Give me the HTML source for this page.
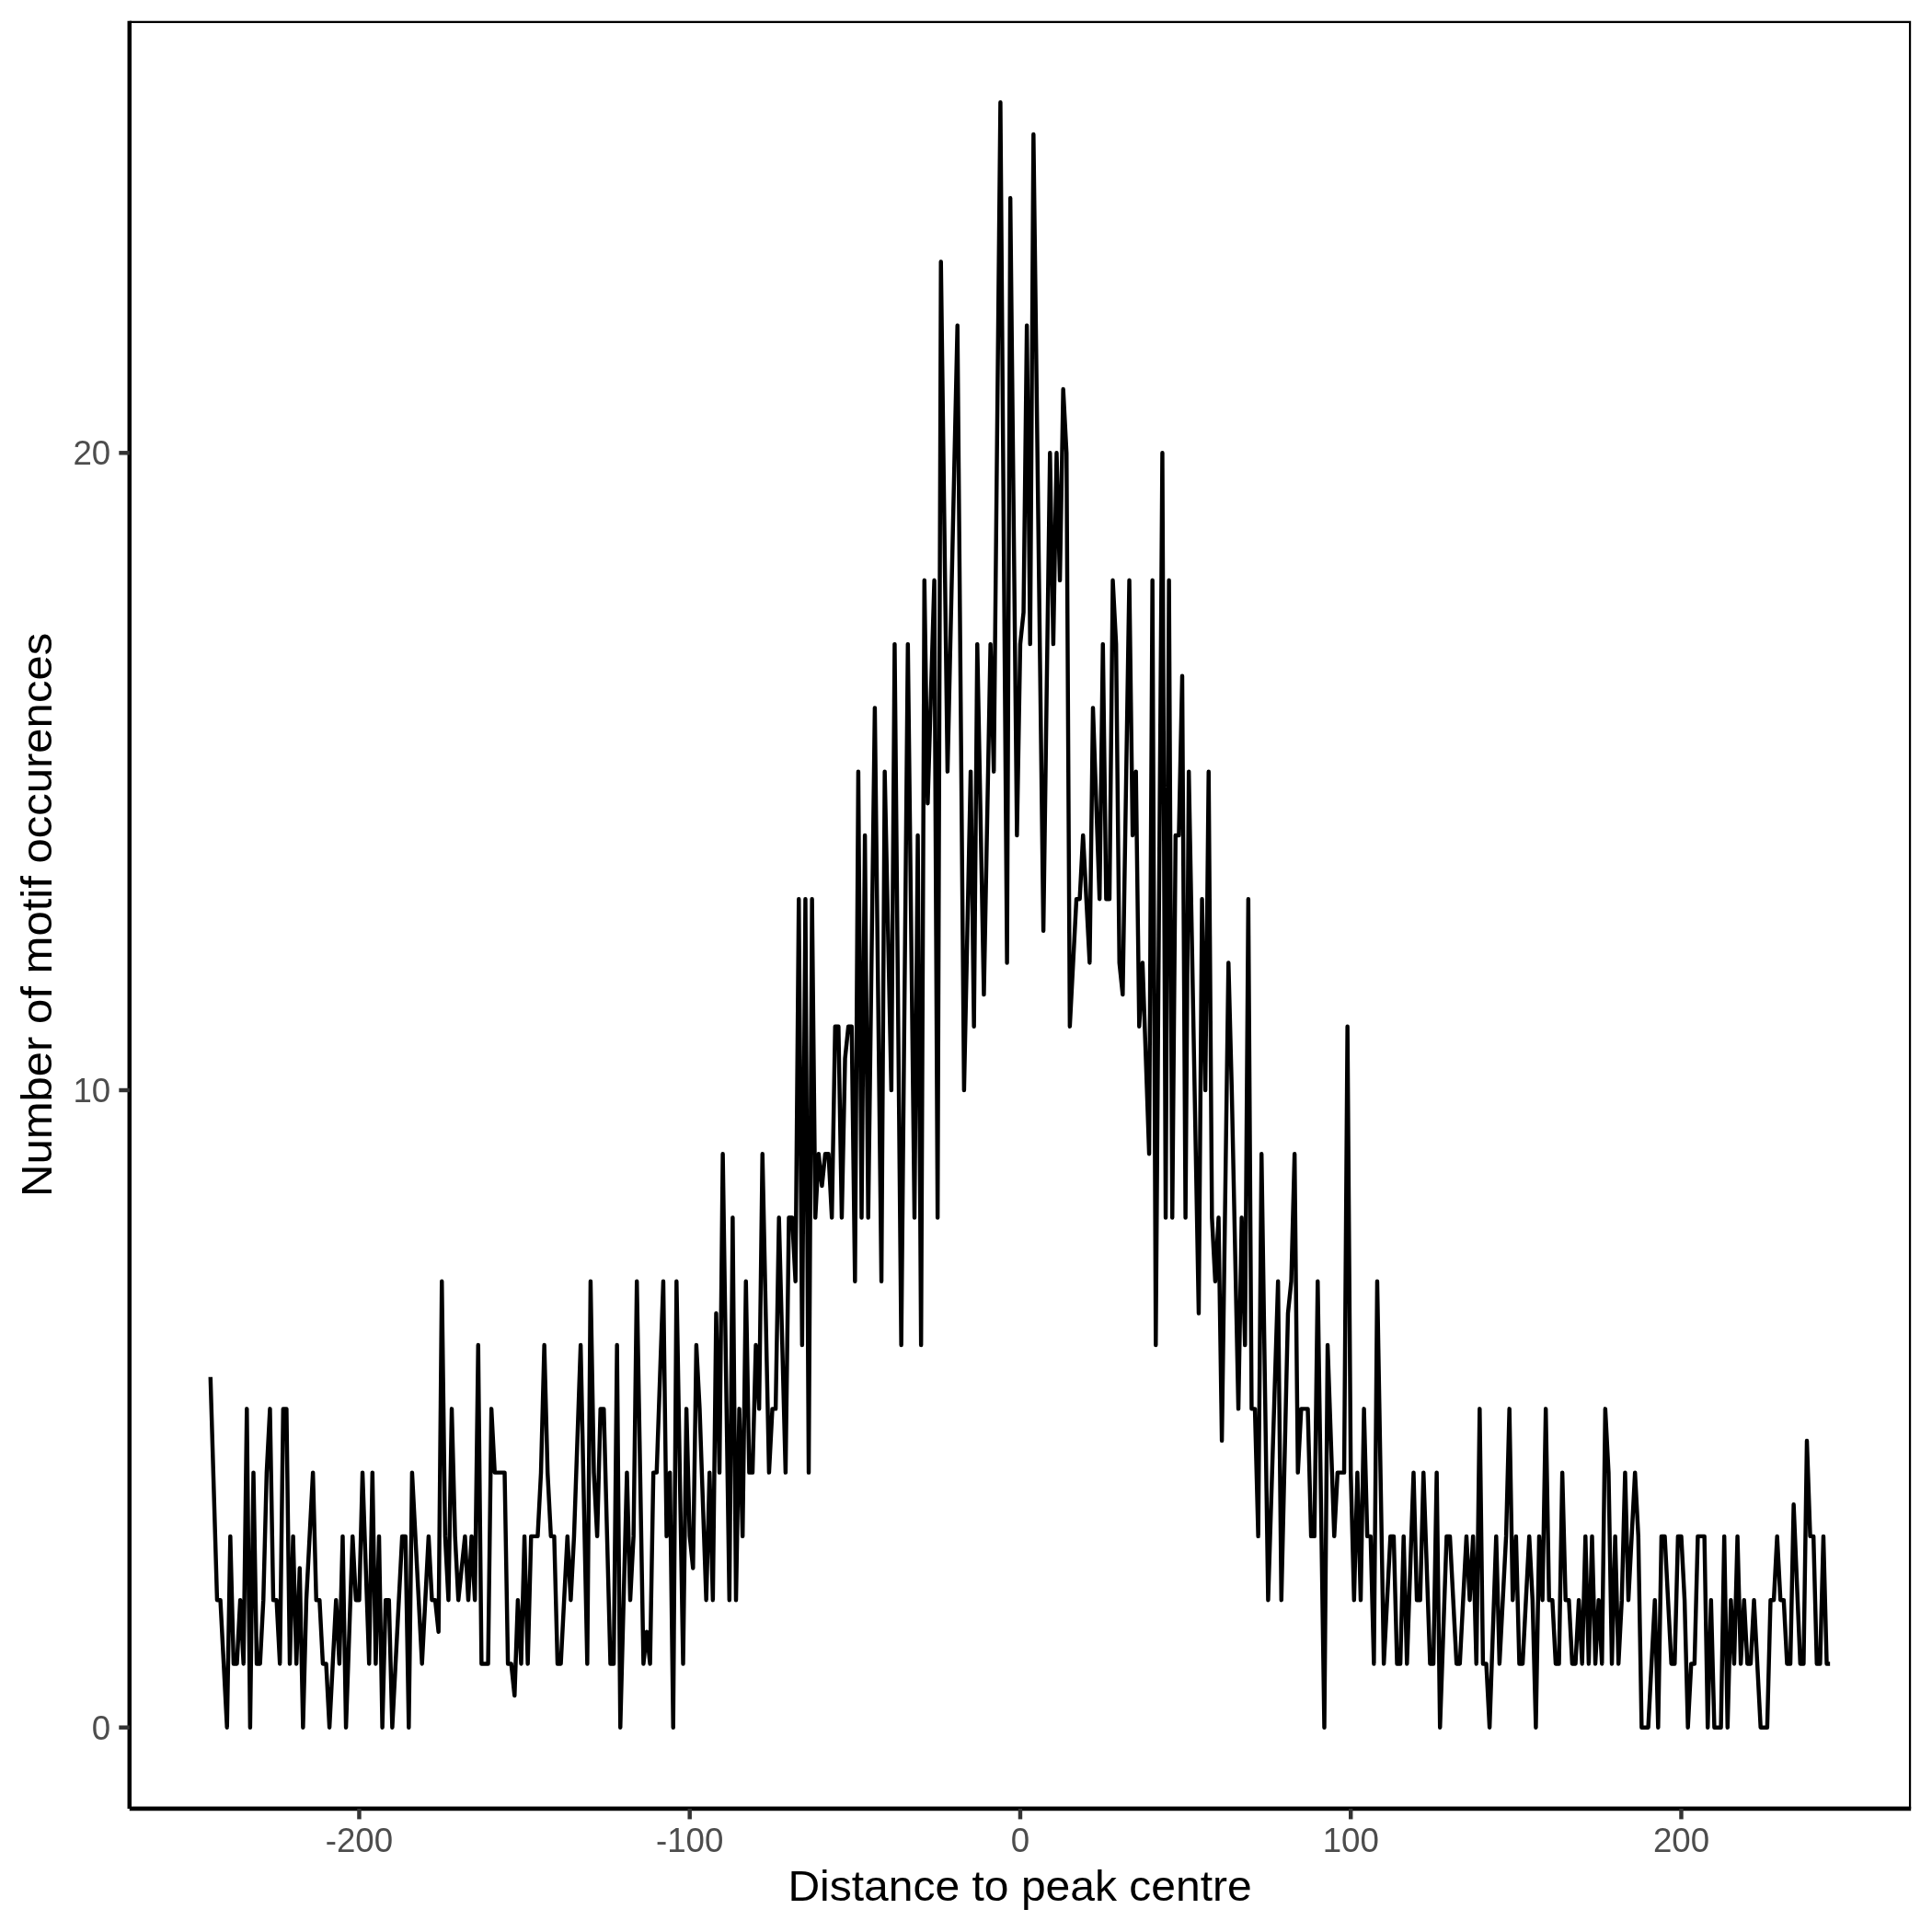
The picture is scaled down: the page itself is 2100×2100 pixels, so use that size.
<!DOCTYPE html>
<html><head><meta charset="utf-8"><title>plot</title>
<style>
html,body{margin:0;padding:0;background:#fff;}
svg{display:block;will-change:transform;}
text{font-family:"Liberation Sans",sans-serif;}
</style></head><body>
<svg width="2100" height="2100" viewBox="0 0 2100 2100">
<rect x="0" y="0" width="2100" height="2100" fill="#ffffff"/>
<defs><clipPath id="panel"><rect x="140.75" y="22.83" width="1936.42" height="1943.17"/></clipPath></defs>
<polyline points="228.77,1496.72 235.96,1739.16 239.55,1739.16 246.74,1877.70 250.33,1669.89 253.92,1808.43 257.51,1808.43 261.11,1739.16 264.70,1808.43 268.29,1531.35 271.88,1877.70 275.48,1600.62 279.07,1808.43 282.66,1808.43 286.25,1739.16 289.85,1600.62 293.44,1531.35 297.03,1739.16 300.62,1739.16 304.22,1808.43 307.81,1531.35 311.40,1531.35 315.00,1808.43 318.59,1669.89 322.18,1808.43 325.77,1704.53 329.37,1877.70 332.96,1739.16 340.14,1600.62 343.74,1739.16 347.33,1739.16 350.92,1808.43 354.51,1808.43 358.11,1877.70 365.29,1739.16 368.88,1808.43 372.48,1669.89 376.07,1877.70 383.25,1669.89 386.85,1739.16 390.44,1739.16 394.03,1600.62 401.22,1808.43 404.81,1600.62 408.40,1808.43 412.00,1669.89 415.59,1877.70 419.18,1739.16 422.77,1739.16 426.37,1877.70 437.14,1669.89 440.74,1669.89 444.33,1877.70 447.92,1600.62 458.70,1808.43 465.88,1669.89 469.48,1739.16 473.07,1739.16 476.66,1773.80 480.25,1392.81 483.85,1669.89 487.44,1739.16 491.03,1531.35 494.63,1669.89 498.22,1739.16 505.40,1669.89 509.00,1739.16 512.59,1669.89 516.18,1739.16 519.77,1462.08 523.37,1808.43 530.55,1808.43 534.14,1531.35 537.74,1600.62 548.51,1600.62 552.11,1808.43 555.70,1808.43 559.29,1843.07 562.88,1739.16 566.48,1808.43 570.07,1669.89 573.66,1808.43 577.26,1669.89 584.44,1669.89 588.03,1600.62 591.63,1462.08 595.22,1600.62 598.81,1669.89 602.40,1669.89 606.00,1808.43 609.59,1808.43 616.77,1669.89 620.37,1739.16 623.96,1669.89 631.14,1462.08 638.33,1808.43 641.92,1392.81 645.51,1600.62 649.11,1669.89 652.70,1531.35 656.29,1531.35 663.48,1808.43 667.07,1808.43 670.66,1462.08 674.26,1877.70 681.44,1600.62 685.03,1739.16 688.63,1669.89 692.22,1392.81 699.40,1808.43 703.00,1773.80 706.59,1808.43 710.18,1600.62 713.77,1600.62 720.96,1392.81 724.55,1669.89 728.14,1600.62 731.74,1877.70 735.33,1392.81 742.51,1808.43 746.11,1531.35 749.70,1669.89 753.29,1704.53 756.89,1462.08 760.48,1531.35 767.66,1739.16 771.26,1600.62 774.85,1739.16 778.44,1427.45 782.03,1600.62 785.63,1254.27 792.81,1739.16 796.40,1323.54 800.00,1739.16 803.59,1531.35 807.18,1669.89 810.77,1392.81 814.37,1600.62 817.96,1600.62 821.55,1462.08 825.14,1531.35 828.74,1254.27 835.92,1600.62 839.52,1531.35 843.11,1531.35 846.70,1323.54 853.89,1600.62 857.48,1323.54 861.07,1323.54 864.66,1392.81 868.26,977.19 871.85,1462.08 875.44,977.19 879.03,1600.62 882.63,977.19 886.22,1323.54 889.81,1254.27 893.40,1288.91 897.00,1254.27 900.59,1254.27 904.18,1323.54 907.77,1115.73 911.37,1115.73 914.96,1323.54 918.55,1150.37 922.14,1115.73 925.74,1115.73 929.33,1392.81 932.92,838.65 936.52,1323.54 940.11,907.92 943.70,1323.54 950.89,769.38 958.07,1392.81 961.66,838.65 968.85,1185.00 972.44,700.11 979.63,1462.08 986.81,700.11 994.00,1323.54 997.59,907.92 1001.18,1462.08 1004.77,630.84 1008.37,873.29 1015.55,630.84 1019.14,1323.54 1022.74,284.49 1029.92,838.65 1040.70,353.76 1047.89,1185.00 1055.07,838.65 1058.66,1115.73 1062.26,700.11 1069.44,1081.10 1076.63,700.11 1080.22,838.65 1087.40,111.32 1094.59,1046.46 1098.18,215.22 1105.37,907.92 1108.96,700.11 1112.55,665.48 1116.15,353.76 1119.74,700.11 1123.33,145.95 1134.11,1011.83 1141.29,492.30 1144.89,700.11 1148.48,492.30 1152.07,630.84 1155.66,423.03 1159.26,492.30 1162.85,1115.73 1170.03,977.19 1173.63,977.19 1177.22,907.92 1184.40,1046.46 1188.00,769.38 1195.18,977.19 1198.78,700.11 1202.37,977.19 1205.96,977.19 1209.55,630.84 1213.15,700.11 1216.74,1046.46 1220.33,1081.10 1227.52,630.84 1231.11,907.92 1234.70,838.65 1238.29,1115.73 1241.89,1046.46 1249.07,1254.27 1252.66,630.84 1256.26,1462.08 1263.44,492.30 1267.03,1323.54 1270.63,630.84 1274.22,1323.54 1277.81,907.92 1281.40,907.92 1285.00,734.75 1288.59,1323.54 1292.18,838.65 1302.96,1427.45 1306.55,977.19 1310.15,1185.00 1313.74,838.65 1317.33,1323.54 1320.92,1392.81 1324.52,1323.54 1328.11,1565.99 1335.29,1046.46 1338.89,1185.00 1346.07,1531.35 1349.66,1323.54 1353.26,1462.08 1356.85,977.19 1360.44,1531.35 1364.03,1531.35 1367.63,1669.89 1371.22,1254.27 1378.40,1739.16 1389.18,1392.81 1392.78,1739.16 1399.96,1427.45 1403.55,1392.81 1407.15,1254.27 1410.74,1600.62 1414.33,1531.35 1421.52,1531.35 1425.11,1669.89 1428.70,1669.89 1432.29,1392.81 1439.48,1877.70 1443.07,1462.08 1450.26,1669.89 1453.85,1600.62 1461.03,1600.62 1464.63,1115.73 1468.22,1600.62 1471.81,1739.16 1475.41,1600.62 1479.00,1739.16 1482.59,1531.35 1486.18,1669.89 1489.78,1669.89 1493.37,1808.43 1496.96,1392.81 1504.15,1808.43 1511.33,1669.89 1514.92,1669.89 1518.52,1808.43 1522.11,1808.43 1525.70,1669.89 1529.29,1808.43 1536.48,1600.62 1540.07,1739.16 1543.66,1739.16 1547.26,1600.62 1554.44,1808.43 1558.04,1808.43 1561.63,1600.62 1565.22,1877.70 1572.41,1669.89 1576.00,1669.89 1583.18,1808.43 1586.78,1808.43 1593.96,1669.89 1597.55,1739.16 1601.15,1669.89 1604.74,1808.43 1608.33,1531.35 1611.92,1808.43 1615.52,1808.43 1619.11,1877.70 1626.29,1669.89 1629.89,1808.43 1637.07,1669.89 1640.66,1531.35 1644.26,1739.16 1647.85,1669.89 1651.44,1808.43 1655.04,1808.43 1662.22,1669.89 1665.81,1739.16 1669.41,1877.70 1673.00,1669.89 1676.59,1739.16 1680.18,1531.35 1683.78,1739.16 1687.37,1739.16 1690.96,1808.43 1694.55,1808.43 1698.15,1600.62 1701.74,1739.16 1705.33,1739.16 1708.92,1808.43 1712.52,1808.43 1716.11,1739.16 1719.70,1808.43 1723.29,1669.89 1726.89,1808.43 1730.48,1669.89 1734.07,1808.43 1737.66,1739.16 1741.26,1808.43 1744.85,1531.35 1748.44,1600.62 1752.04,1808.43 1755.63,1669.89 1759.22,1808.43 1762.81,1739.16 1766.41,1600.62 1770.00,1739.16 1777.18,1600.62 1780.78,1669.89 1784.37,1877.70 1791.55,1877.70 1798.74,1739.16 1802.33,1877.70 1805.92,1669.89 1809.52,1669.89 1816.70,1808.43 1820.29,1808.43 1823.89,1669.89 1827.48,1669.89 1831.07,1739.16 1834.67,1877.70 1838.26,1808.43 1841.85,1808.43 1845.44,1669.89 1852.63,1669.89 1856.22,1877.70 1859.81,1739.16 1863.41,1877.70 1870.59,1877.70 1874.18,1669.89 1877.78,1877.70 1881.37,1739.16 1884.96,1808.43 1888.55,1669.89 1892.15,1808.43 1895.74,1739.16 1899.33,1808.43 1902.92,1808.43 1906.52,1739.16 1913.70,1877.70 1920.89,1877.70 1924.48,1739.16 1928.07,1739.16 1931.67,1669.89 1935.26,1739.16 1938.85,1739.16 1942.44,1808.43 1946.04,1808.43 1949.63,1635.26 1956.81,1808.43 1960.41,1808.43 1964.00,1565.99 1967.59,1669.89 1971.18,1669.89 1974.78,1808.43 1978.37,1808.43 1981.96,1669.89 1985.55,1808.43 1989.15,1808.43" fill="none" stroke="#000" stroke-width="4.45" stroke-linejoin="round" stroke-linecap="butt"/>
<rect x="140.75" y="22.83" width="1936.42" height="1943.17" fill="none" stroke="#000" stroke-width="4.45" clip-path="url(#panel)"/>
<line x1="140.75" y1="22.83" x2="140.75" y2="1966.0" stroke="#000" stroke-width="4.45"/>
<line x1="140.75" y1="1966.0" x2="2077.17" y2="1966.0" stroke="#000" stroke-width="4.45"/>

<line x1="129.33" y1="1877.70" x2="140.75" y2="1877.70" stroke="#333" stroke-width="4.45"/>
<line x1="129.33" y1="1185.00" x2="140.75" y2="1185.00" stroke="#333" stroke-width="4.45"/>
<line x1="129.33" y1="492.30" x2="140.75" y2="492.30" stroke="#333" stroke-width="4.45"/>
<line x1="390.44" y1="1966.0" x2="390.44" y2="1977.42" stroke="#333" stroke-width="4.45"/>
<line x1="749.70" y1="1966.0" x2="749.70" y2="1977.42" stroke="#333" stroke-width="4.45"/>
<line x1="1108.96" y1="1966.0" x2="1108.96" y2="1977.42" stroke="#333" stroke-width="4.45"/>
<line x1="1468.22" y1="1966.0" x2="1468.22" y2="1977.42" stroke="#333" stroke-width="4.45"/>
<line x1="1827.48" y1="1966.0" x2="1827.48" y2="1977.42" stroke="#333" stroke-width="4.45"/>
<text id="yl0" x="120.2" y="1890.80" font-size="36.67" fill="#4D4D4D" text-anchor="end">0</text>
<text id="yl10" x="120.2" y="1198.10" font-size="36.67" fill="#4D4D4D" text-anchor="end">10</text>
<text id="yl20" x="120.2" y="505.40" font-size="36.67" fill="#4D4D4D" text-anchor="end">20</text>
<text id="xl-200" x="390.44" y="2013.0" font-size="36.67" fill="#4D4D4D" text-anchor="middle">-200</text>
<text id="xl-100" x="749.70" y="2013.0" font-size="36.67" fill="#4D4D4D" text-anchor="middle">-100</text>
<text id="xl0" x="1108.96" y="2013.0" font-size="36.67" fill="#4D4D4D" text-anchor="middle">0</text>
<text id="xl100" x="1468.22" y="2013.0" font-size="36.67" fill="#4D4D4D" text-anchor="middle">100</text>
<text id="xl200" x="1827.48" y="2013.0" font-size="36.67" fill="#4D4D4D" text-anchor="middle">200</text>
<text id="xt" x="1108.6" y="2066.0" font-size="45.83" fill="#000" text-anchor="middle" textLength="504.4" lengthAdjust="spacingAndGlyphs">Distance to peak centre</text>
<text id="yt" transform="translate(56.1,994.4) rotate(-90)" x="0" y="0" font-size="45.83" fill="#000" text-anchor="middle" textLength="613.2" lengthAdjust="spacingAndGlyphs">Number of motif occurences</text>
</svg></body></html>
